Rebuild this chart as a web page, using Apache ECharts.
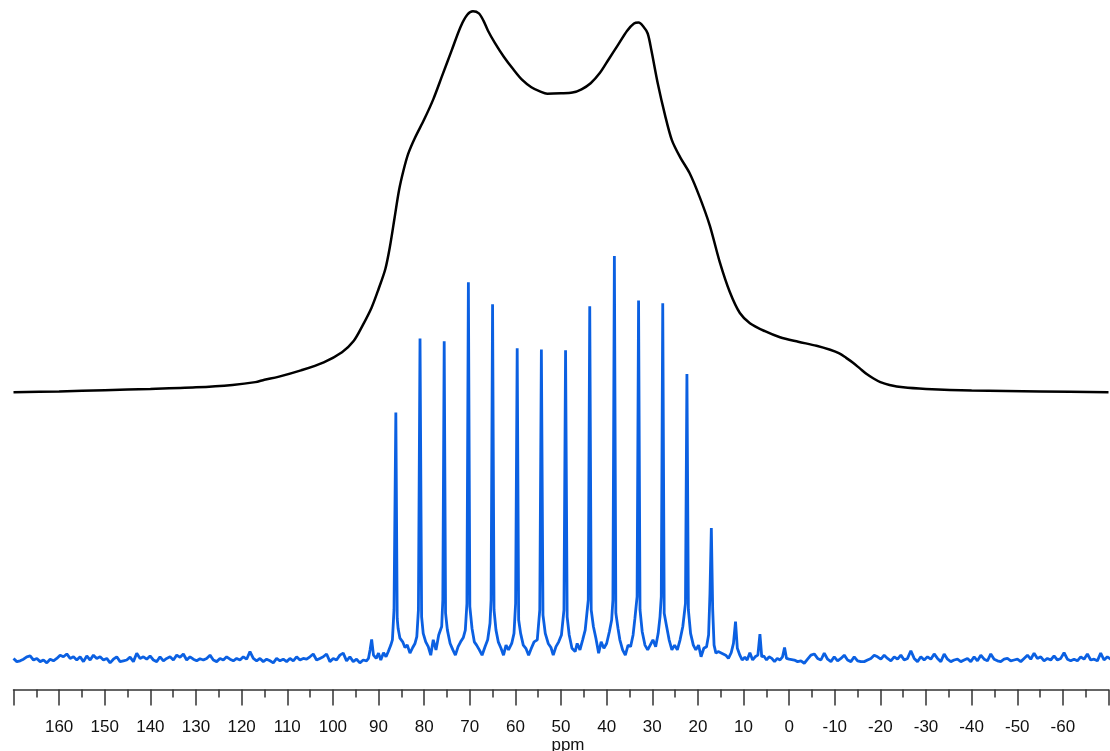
<!DOCTYPE html>
<html>
<head>
<meta charset="utf-8">
<script src="https://cdn.jsdelivr.net/npm/echarts@6/dist/echarts.min.js"></script>
<style>
  html, body { margin: 0; padding: 0; background: #ffffff; }
  #chart { width: 1110px; height: 751px; }
</style>
</head>
<body>
<div id="chart"></div>
<script>
// Chemical-shift scale (ppm), drawn high to low
const ppmRange = [-70, 170];
const tickLabels = [160, 150, 140, 130, 120, 110, 100, 90, 80, 70, 60, 50, 40, 30, 20, 10, 0,
                    -10, -20, -30, -40, -50, -60];

// High-resolution spectrum: noisy baseline sampled on an even ppm grid
const baselineStep = 0.73;
const baselineLeftStart = 170;
const baselineLeft = [
  0.4,-0.4,-0.2,0.2,0.8,1.0,0,0.4,-0.4,0,
  -0.7,0.2,-0.2,0.4,1.2,0.8,1.5,0.4,0.8,0,
  0.8,-0.4,1.0,0,1.2,0.4,0.8,0,0.4,-0.7,
  0.2,0.8,-0.4,-0.2,0,0.7,-0.4,1.7,0.4,0.8,
  0.2,1.0,0,-0.4,0.8,-0.2,0.4,0.8,0,1.2,
  0.7,1.5,0,0.8,0.2,-0.2,0.3,0,0.4,1.2,
  0,-0.4,0.4,0,0.8,0.2,-0.2,0.4,0,0.8,
  0.2,2.1,0.4,-0.2,0.4,-0.4,0.2,-0.2,-0.7,0.4,
  -0.2,0.2,-0.4,0.4,-0.2,0.8,0,0.4,0.2,0.8,
  1.5,0,0.4,0.8,1.5,-0.4,0.4,0,1.2,1.7,
  -0.2,0.8,-0.4,0.2,-0.7,0,-0.2
];
const baselineRightStart = -0.4;
const baselineRight = [
  0.2,0,-0.4,-0.2,-0.8,0.2,1.2,1.5,0.4,0,
  1.7,0.2,-0.4,0.8,-0.2,0.4,1.2,0,-0.4,0.8,
  -0.2,-0.4,-0.4,0,0.4,1.2,0.8,0.2,1.2,0.4,
  -0.2,0.8,0.2,1.2,0,0.4,2.3,0.4,-0.4,0.8,
  0,0.8,0.2,1.5,0.4,-0.4,1.5,0.2,-0.4,0,
  0.2,-0.4,0,0.4,-0.4,0.8,-0.2,1.2,0.2,-0.2,
  1.5,0.2,-0.2,-0.4,0.2,0.4,-0.2,0,0.2,-0.4,
  0.4,1.2,0.2,1.7,0.4,0.8,-0.2,0.4,0,1.0,
  0,0.4,1.8,0.2,-0.2,0.2,-0.2,0.8,0.2,1.5,
  0,0.2,-0.2,1.7,0,0.8,0.2
];

// Resonance band [ppm, intensity]; tallest line (38.3 ppm) = 100
const peakBand = [
  [92.2,0.4],[91.85,2.5],[91.5,5.1],[91.1,1.2],[90.5,0.4],[90.0,1.7],[89.5,0],[88.9,1.8],
  [88.35,0.8],[87.85,2.1],[87.3,3.7],[86.95,5.0],[86.6,12.4],[86.2,61.3],[85.9,10.3],[85.7,7.8],
  [85.3,5.4],[84.7,4.5],[84.2,3.1],[83.7,3.7],[83.1,1.7],[82.5,3.1],[82.0,4.1],[81.6,5.8],
  [81.25,12.4],[80.9,79.6],[80.55,10.7],[80.2,6.6],[79.65,4.5],[79.1,3.3],[78.55,1.2],[78.0,5.0],
  [77.4,2.5],[76.8,6.2],[76.15,8.3],[75.9,14.9],[75.6,78.9],[75.3,11.6],[74.9,7.4],[74.3,4.1],
  [73.7,2.5],[73.15,1.2],[72.55,3.3],[72.0,4.5],[71.4,5.6],[70.97,7.4],[70.62,14.0],[70.3,93.5],
  [69.98,13.2],[69.5,7.8],[69.0,4.5],[68.5,3.7],[67.9,2.5],[67.3,1.2],[66.65,3.3],[66.07,5.0],
  [65.56,9.1],[65.32,14.9],[65.0,88.1],[64.68,12.4],[64.25,7.4],[63.75,4.5],[63.15,2.9],[62.6,1.2],
  [62.05,3.7],[61.5,2.5],[60.8,4.1],[60.3,6.6],[59.95,14.0],[59.6,77.2],[59.28,9.9],[58.85,6.6],
  [58.27,3.7],[57.7,2.9],[57.1,1.2],[56.5,2.9],[55.9,4.5],[55.2,5.0],[54.65,12.4],[54.3,76.9],
  [53.95,11.1],[53.45,6.6],[52.8,4.1],[52.2,3.1],[51.7,1.2],[51.1,3.3],[50.5,4.5],[49.9,6.2],
  [49.35,12.4],[49.0,76.7],[48.65,10.7],[48.2,6.2],[47.6,2.9],[46.9,2.1],[46.45,4.1],[45.85,2.5],
  [45.25,5.0],[44.7,7.4],[44.02,14.9],[43.7,87.6],[43.38,12.4],[42.9,8.3],[42.35,5.4],[41.75,1.7],
  [41.2,4.5],[40.6,2.9],[40.0,4.1],[39.4,7.0],[38.9,9.9],[38.62,14.9],[38.3,100],[37.98,11.6],
  [37.5,7.8],[37.1,5.0],[36.5,2.5],[35.9,1.2],[35.3,3.7],[34.75,3.3],[34.2,6.2],[33.8,10.3],
  [33.32,15.7],[33.0,89.0],[32.68,12.4],[32.2,7.0],[31.6,3.7],[31.0,2.5],[30.45,3.7],[29.85,5.0],
  [29.25,3.3],[28.7,6.6],[28.3,10.7],[28.02,15.7],[27.7,88.3],[27.38,11.6],[26.85,8.3],[26.3,5.0],
  [25.7,2.5],[25.1,3.7],[24.5,2.5],[23.9,5.0],[23.3,8.3],[22.72,14.0],[22.4,70.8],[22.08,12.4],
  [21.6,6.6],[21.0,3.7],[20.45,2.5],[19.85,3.7],[19.3,0.8],[18.7,2.9],[18.1,3.3],[17.65,6.2],
  [17.35,16.5],[17.05,32.7],[16.75,12.4],[16.45,3.7],[16.05,1.7],[15.55,2.1],[15.0,1.8],[14.45,1.5],
  [13.9,1.2],[13.3,0.4],[12.7,1.8],[12.2,4.1],[11.75,9.5],[11.35,2.9],[10.8,1.2],[10.3,0],
  [9.7,0.7],[9.2,0],[8.6,1.8],[8.0,0],[7.45,0.8],[6.85,1.2],[6.4,6.4],[6.0,0.8],
  [5.55,1.0],[4.95,0],[4.4,0.8],[3.8,0.4],[3.2,-0.4],[2.6,0.4],[2.0,0],[1.45,0.8],
  [1.0,3.1],[0.57,0.4],[0.0,0.2]
];

// Broad envelope [ppm, intensity above its own baseline], same intensity units
const envelopePoints = [
  [170,0],[160,0.2],[150,0.5],[140,0.8],[130,1.2],[122,1.8],[117,2.5],[115,3.1],
  [112,3.8],[107,5.4],[102,7.4],[98,9.9],[95.5,12.6],[93.5,16.5],[91.5,21],[90,25.5],
  [88.5,30.5],[87.5,36],[86.5,43],[85.5,50],[84.5,55],[83.5,59],[82,63],[80,67.5],
  [78,72.5],[76,78.5],[74,84.5],[72,90.5],[70.5,93.5],[69.3,94.3],[68,93.8],[67,92],
  [66,89.5],[64.5,86.5],[62.5,83],[60.5,80],[58.5,77.3],[56.5,75.5],[54.5,74.4],[53,73.9],
  [50,74],[47.5,74.2],[45.5,75],[43.5,76.5],[41.5,79],[39.5,82.5],[37.5,86],[35.5,89.5],
  [34,91.3],[33,91.5],[32,90.6],[31,88.8],[30.2,84.7],[28.8,76.5],[27.2,68.6],[25.7,62.4],
  [23.9,58.2],[21.8,54.2],[19.6,48.3],[17.4,41.3],[15.2,32.2],[13,24.8],[10.8,19.6],[8.6,17.1],
  [5.3,15.1],[2,13.6],[-2,12.5],[-6,11.5],[-9,10.5],
  [-11,9.6],[-12.5,8.5],[-14,7.3],[-15.5,5.9],[-17,4.5],[-18.5,3.4],[-20,2.5],[-22,1.8],
  [-25,1.2],[-30,0.8],[-40,0.4],[-55,0.2],[-70,0]
];

// Display stacking
const envelopeOffset = 66.3;
const yRange = [-7.3, 163.4];

const spectrumData = []
  .concat(baselineLeft.map((v, i) => [baselineLeftStart - i * baselineStep, v]))
  .concat(peakBand)
  .concat(baselineRight.map((v, i) => [baselineRightStart - i * baselineStep, v]));
const envelopeData = envelopePoints.map(([x, v]) => [x, v + envelopeOffset]);

const axisColor = '#333333';
const font = '"Liberation Sans", Arial, Helvetica, sans-serif';

const chart = echarts.init(document.getElementById('chart'), null, { renderer: 'canvas' });
chart.setOption({
  animation: false,
  backgroundColor: '#ffffff',
  grid: {
    left: 13.5, right: 1.5, top: 0, bottom: 61.5,
    containLabel: false,
    outerBoundsMode: 'none'
  },
  xAxis: {
    type: 'value',
    inverse: true,
    min: ppmRange[0],
    max: ppmRange[1],
    interval: 10,
    axisLine: { show: true, onZero: false, lineStyle: { color: axisColor, width: 1.5 } },
    axisTick: { show: true, length: 16, lineStyle: { color: axisColor, width: 1.5 } },
    minorTick: { show: true, splitNumber: 2, length: 8, lineStyle: { color: axisColor, width: 1.5 } },
    splitLine: { show: false },
    minorSplitLine: { show: false },
    axisLabel: {
      margin: 29,
      fontSize: 17,
      color: '#111111',
      fontFamily: font,
      formatter: v => tickLabels.includes(v) ? String(v) : ''
    },
    name: 'ppm',
    nameLocation: 'middle',
    nameGap: 47,
    nameMoveOverlap: false,
    nameTextStyle: { fontSize: 17, color: '#111111', fontFamily: font, padding: [0, 0, 0, 14] }
  },
  yAxis: { type: 'value', min: yRange[0], max: yRange[1], show: false },
  series: [
    {
      name: 'spectrum',
      type: 'line',
      data: spectrumData,
      showSymbol: false,
      clip: true,
      lineStyle: { color: '#0b60e2', width: 2.8 },
      z: 2
    },
    {
      name: 'envelope',
      type: 'line',
      data: envelopeData,
      showSymbol: false,
      smooth: 0.3,
      clip: true,
      lineStyle: { color: '#000000', width: 2.5 },
      z: 3
    }
  ]
});
</script>
</body>
</html>
